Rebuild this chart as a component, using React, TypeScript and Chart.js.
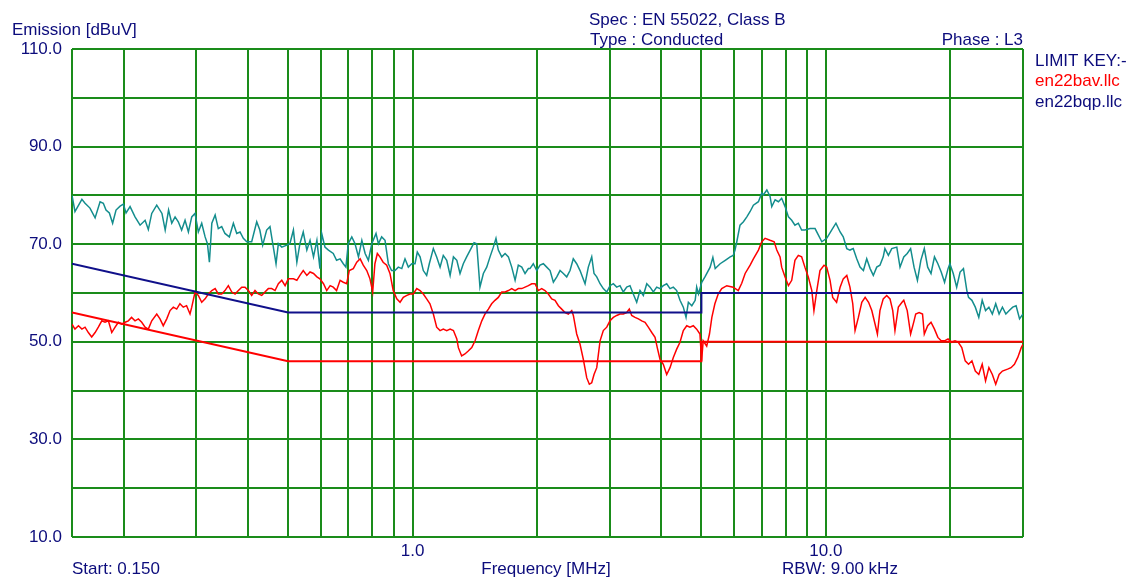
import React, { useEffect, useRef } from 'react';
import { Chart, registerables } from 'chart.js';

Chart.register(...registerables);

// Quasi-peak trace (teal): frequency (MHz) and level (dBuV)
const qpFreqMHz = [
  0.15, 0.1525, 0.1585, 0.1613, 0.1658, 0.1706, 0.1754, 0.1786, 0.1813, 0.1847,
  0.1881, 0.1917, 0.1961, 0.1997, 0.2027, 0.2073, 0.2131, 0.2192, 0.2254, 0.2295,
  0.2339, 0.2405, 0.2476, 0.2521, 0.2569, 0.2615, 0.2664, 0.2712, 0.2763, 0.2816,
  0.2869, 0.2923, 0.2977, 0.3032, 0.309, 0.3149, 0.319, 0.3225, 0.3269, 0.333,
  0.3389, 0.3454, 0.3517, 0.3604, 0.3686, 0.3756, 0.3825, 0.3896, 0.3971, 0.4082,
  0.4198, 0.4271, 0.434, 0.4437, 0.452, 0.4605, 0.4675, 0.4736, 0.4827, 0.4965,
  0.505, 0.515, 0.525, 0.534, 0.544, 0.555, 0.565, 0.576, 0.587, 0.597,
  0.603, 0.614, 0.626, 0.643, 0.655, 0.668, 0.68, 0.69, 0.699, 0.713,
  0.726, 0.74, 0.754, 0.768, 0.782, 0.797, 0.816, 0.827, 0.842, 0.858,
  0.874, 0.89, 0.907, 0.924, 0.942, 0.959, 0.977, 0.996, 1.014, 1.027,
  1.043, 1.062, 1.082, 1.098, 1.123, 1.144, 1.166, 1.187, 1.21, 1.233,
  1.256, 1.28, 1.303, 1.327, 1.352, 1.391, 1.409, 1.43, 1.456, 1.484,
  1.512, 1.54, 1.569, 1.592, 1.613, 1.644, 1.675, 1.706, 1.738, 1.771,
  1.803, 1.838, 1.872, 1.907, 1.924, 1.96, 1.998, 2.035, 2.073, 2.112,
  2.152, 2.192, 2.234, 2.275, 2.317, 2.361, 2.405, 2.449, 2.496, 2.543,
  2.615, 2.663, 2.714, 2.749, 2.791, 2.843, 2.895, 2.951, 3.005, 3.061,
  3.119, 3.177, 3.236, 3.298, 3.359, 3.421, 3.487, 3.552, 3.618, 3.688,
  3.756, 3.826, 3.898, 3.971, 4.044, 4.121, 4.198, 4.276, 4.357, 4.438,
  4.521, 4.59, 4.65, 4.74, 4.83, 4.87, 4.92, 5.01, 5.1, 5.25,
  5.33, 5.4, 5.55, 5.71, 5.87, 5.97, 6.03, 6.09, 6.2, 6.32,
  6.44, 6.56, 6.68, 6.87, 7.0, 7.06, 7.2, 7.33, 7.4, 7.54,
  7.68, 7.82, 7.97, 8.12, 8.27, 8.42, 8.58, 8.74, 8.9, 9.16,
  9.42, 9.59, 9.78, 10.05, 10.33, 10.58, 10.83, 11.02, 11.24, 11.44,
  11.65, 11.88, 12.1, 12.33, 12.56, 12.8, 13.03, 13.28, 13.52, 13.77,
  13.9, 14.17, 14.44, 14.85, 15.12, 15.44, 15.74, 16.04, 16.35, 16.66,
  16.98, 17.31, 17.64, 17.97, 18.32, 18.67, 19.02, 19.38, 19.76, 19.96,
  20.34, 20.73, 21.13, 21.53, 21.94, 22.15, 22.57, 23.0, 23.45, 23.9,
  24.35, 24.81, 25.29, 25.77, 26.26, 26.75, 27.27, 27.79, 28.33, 28.87,
  29.43, 30,
];
const qpTrace = [
  80, 76.7, 79.2, 78.4, 77.4, 75.4, 78.7, 78.4, 77, 76.4,
  74.3, 77, 77.8, 78.2, 76.4, 77.7, 75.6, 73.9, 74.9, 73,
  76.3, 78, 76.3, 72.9, 77, 74.3, 75.6, 74.6, 72.9, 74.9,
  72.5, 75.6, 76.3, 72.5, 74.3, 71.5, 70.1, 66.3, 74.3, 76,
  73.2, 73.6, 72.2, 71.5, 74.3, 72.2, 72.5, 71.2, 70.5, 70.5,
  74.6, 72.9, 69.8, 72.9, 73.6, 69.4, 66, 70.1, 69.4, 69.8,
  70.1, 72.9, 66.3, 70.1, 72.5, 68.8, 70.8, 67.4, 70.8, 65,
  72.2, 69.4, 68.8, 68.1, 66.7, 67, 66, 65.3, 70.1, 71.5,
  70.1, 67.4, 70.8, 68.1, 66.7, 70.1, 72.2, 70.1, 71.5, 70.8,
  66, 64.6, 64.6, 65.3, 65, 67, 65.3, 66, 66, 68.4,
  67.4, 64.6, 63.6, 66, 69.1, 67.4, 65.3, 67.7, 66.7, 63.6,
  67.4, 66.7, 64, 66, 67.4, 69.4, 70.3, 70.1, 61.2, 64,
  65.3, 67.4, 69.4, 71.2, 68.8, 67.4, 68.1, 67.4, 65.3, 62.6,
  65.7, 65.3, 64, 65, 65, 66, 64.6, 65.7, 66, 65.3,
  64.6, 62.2, 63.3, 64.6, 64, 63.3, 64.6, 67, 66, 64.6,
  61.9, 65.3, 67.4, 64, 63.3, 61.9, 60.9, 60.2, 61.5, 61.9,
  61.2, 61.5, 60.2, 61.2, 61.5, 59.8, 58.1, 60.5, 59.5, 61.9,
  61.2, 60.2, 61.2, 60.9, 61.5, 61.9, 60.9, 61.2, 60.5, 58.5,
  57.1, 55, 58.1, 57.4, 58.5, 61.2, 59.8, 62.2, 63.3, 65.3,
  67.3, 65, 66, 66.7, 67.4, 67.7, 68.8, 70.5, 73.9, 74.6,
  75.6, 76.7, 78, 78.7, 80.5, 80.1, 81.1, 79.8, 77.7, 79.1,
  78.7, 79.4, 77.7, 75.6, 74.9, 73.9, 74.3, 72.9, 72.9, 73.2,
  73.2, 71.9, 70.5, 71.2, 72.9, 74.3, 72.5, 71.5, 69.1, 68.8,
  69.1, 67, 65.3, 64.6, 67, 65, 63.6, 65.3, 65.7, 67.4,
  69.1, 67.7, 69.1, 69.4, 65.3, 67.4, 68.1, 69.1, 65.3, 62.6,
  66.7, 69.1, 65.3, 64, 67.4, 66, 64.3, 62.2, 65, 66,
  64, 61.2, 64.3, 65, 60.5, 59.1, 58.5, 57.1, 55, 58.5,
  56.4, 57.1, 55.7, 57.8, 55.7, 57.1, 55.7, 56.4, 57.1, 57.4,
  54.7, 55.7,
];

// Average trace (red): frequency (MHz) and level (dBuV)
const avFreqMHz = [
  0.15, 0.1525, 0.1555, 0.1585, 0.1613, 0.1643, 0.1674, 0.1706, 0.1737, 0.1771,
  0.1803, 0.1837, 0.1872, 0.1907, 0.1942, 0.1979, 0.2016, 0.2053, 0.209, 0.2131,
  0.2171, 0.2212, 0.2254, 0.2295, 0.2339, 0.2405, 0.2449, 0.2494, 0.2543, 0.259,
  0.2638, 0.2688, 0.2737, 0.2788, 0.284, 0.2895, 0.2923, 0.2977, 0.3032, 0.309,
  0.3149, 0.3206, 0.3269, 0.333, 0.3389, 0.3454, 0.3517, 0.3584, 0.3653, 0.3721,
  0.379, 0.3862, 0.3933, 0.4007, 0.4082, 0.4158, 0.4235, 0.4317, 0.4395, 0.4478,
  0.4564, 0.4649, 0.4736, 0.4827, 0.4917, 0.5006, 0.515, 0.525, 0.534, 0.544,
  0.555, 0.565, 0.576, 0.587, 0.597, 0.609, 0.62, 0.632, 0.643, 0.655,
  0.668, 0.68, 0.693, 0.703, 0.719, 0.733, 0.747, 0.76, 0.775, 0.789,
  0.801, 0.811, 0.822, 0.834, 0.849, 0.866, 0.882, 0.898, 0.916, 0.933,
  0.95, 0.969, 0.986, 1.004, 1.024, 1.043, 1.062, 1.082, 1.102, 1.123,
  1.144, 1.166, 1.187, 1.21, 1.233, 1.256, 1.28, 1.291, 1.315, 1.339,
  1.364, 1.391, 1.417, 1.443, 1.471, 1.498, 1.526, 1.554, 1.583, 1.613,
  1.644, 1.675, 1.706, 1.738, 1.771, 1.803, 1.838, 1.872, 1.907, 1.943,
  1.979, 2.016, 2.054, 2.092, 2.131, 2.172, 2.212, 2.254, 2.296, 2.339,
  2.383, 2.428, 2.45, 2.496, 2.543, 2.59, 2.64, 2.678, 2.714, 2.749,
  2.791, 2.843, 2.895, 2.951, 3.005, 3.061, 3.119, 3.177, 3.236, 3.298,
  3.346, 3.391, 3.454, 3.52, 3.586, 3.653, 3.72, 3.792, 3.862, 3.91,
  3.971, 4.044, 4.121, 4.198, 4.276, 4.357, 4.438, 4.521, 4.608, 4.69,
  4.78, 4.87, 4.96, 5.005, 5.05, 5.15, 5.23, 5.3, 5.39, 5.49,
  5.6, 5.76, 5.97, 6.14, 6.26, 6.38, 6.56, 6.68, 6.87, 7.0,
  7.13, 7.33, 7.5, 7.61, 7.75, 7.82, 7.97, 8.12, 8.27, 8.42,
  8.58, 8.74, 8.9, 9.07, 9.25, 9.36, 9.51, 9.68, 9.9, 10.05,
  10.24, 10.39, 10.62, 10.83, 11.02, 11.24, 11.44, 11.62, 11.77, 11.99,
  12.22, 12.45, 12.69, 12.92, 13.16, 13.33, 13.52, 13.77, 14.04, 14.3,
  14.52, 14.7, 14.98, 15.29, 15.44, 15.74, 16.04, 16.35, 16.5, 16.82,
  17.14, 17.31, 17.64, 17.97, 18.32, 18.67, 19.02, 19.38, 19.76, 20.15,
  20.54, 20.92, 21.33, 21.74, 22.15, 22.57, 23.0, 23.45, 23.9, 24.35,
  24.81, 25.29, 25.77, 26.26, 26.75, 27.53, 28.06, 28.6, 29.14, 29.71,
  30,
];
const avTrace = [
  53.6, 52.6, 53.3, 52.6, 53, 51.9, 51, 51.9, 53, 54.3,
  54, 54.3, 51.9, 53, 54, 53.6, 54, 54.3, 55, 54.3,
  54.7, 54, 53, 52.6, 54.3, 55.7, 54.7, 53.3, 54.7, 56.4,
  57.1, 56.7, 57.8, 57.1, 57.4, 55.7, 57.1, 60.2, 59.5, 58.1,
  58.8, 59.8, 60.5, 60.9, 59.8, 59.8, 60.5, 61.5, 60.2, 59.8,
  60.5, 61.2, 61.2, 60.5, 59.5, 60.5, 59.8, 59.5, 60.2, 60.9,
  60.9, 60.5, 61.9, 62.6, 61.5, 62.9, 62.9, 62.6, 63.6, 64.6,
  63.6, 64.3, 64, 63.3, 62.9, 61.9, 60.5, 61.5, 61.2, 60.5,
  62.6, 62.2, 61.9, 64.6, 65, 66.3, 67, 65.7, 64.6, 62.9,
  60.2, 66, 68.1, 67.4, 66.3, 65.7, 64, 60.5, 58.8, 58.1,
  59.1, 59.5, 59.8, 59.8, 60.9, 60.5, 59.8, 58.8, 57.8, 55.7,
  53, 52.3, 52.6, 52.3, 52.6, 52.3, 50.6, 48.8, 47.1, 47.5,
  48.1, 48.8, 50.2, 52.3, 54.3, 55.7, 56.7, 57.8, 58.5, 59.1,
  60.2, 60.2, 60.5, 60.9, 60.5, 60.9, 60.9, 61.2, 61.5, 61.9,
  61.9, 60.5, 60.9, 60.5, 59.8, 58.8, 58.5, 57.4, 56.7, 56,
  55.7, 56.4, 55.4, 51.6, 49.5, 46.4, 42.6, 41.3, 41.6, 43.3,
  44.7, 50.2, 52.3, 53, 54.3, 55, 55.4, 55.7, 55.7, 56,
  56.7, 55.4, 55, 54.7, 54.3, 54, 53, 51.9, 50.9, 48.8,
  46.4, 45.4, 43.3, 44.7, 46.8, 48.5, 49.9, 52.3, 53.3, 53,
  53.3, 52.6, 51.6, 46.1, 50.2, 49.1, 51.6, 55, 57.8, 59.8,
  60.9, 61.5, 61.2, 60.5, 62, 64, 65.7, 67, 68.8, 70.5,
  71.2, 70.8, 70.5, 68.8, 67.4, 65.3, 63.3, 61.5, 62.6, 66.7,
  67.7, 67.4, 65.3, 63.3, 60.5, 56.4, 60.5, 64.6, 65.7, 65.3,
  62.6, 59.1, 58.1, 61.2, 62.9, 63.6, 61.2, 57.8, 52.3, 55,
  58.1, 59.1, 58.1, 56.4, 53.6, 51.6, 56.4, 58.8, 59.5, 58.8,
  56.4, 52.3, 57.1, 58.1, 58.5, 56.4, 51.6, 54.3, 55.7, 56,
  55.7, 51.6, 53.3, 54, 52.6, 50.9, 50.2, 50.2, 50.6, 49.9,
  50.2, 49.9, 48.8, 46.1, 45.4, 46.1, 44, 43.3, 45.4, 42,
  44.7, 43.3, 41.3, 43.3, 44, 44.4, 44.7, 45.4, 46.8, 48.8,
  49.5,
];

// Limit lines (EN 55022 Class B)
const limitFreqMHz = [0.15, 0.5, 5, 5, 30];
const qpLimit = [66, 56, 56, 60, 60];
const avLimit = [56, 46, 46, 50, 50];

// Axis ticks / labels
const xGridMHz = [0.15, 0.2, 0.3, 0.4, 0.5, 0.6, 0.7, 0.8, 0.9, 1, 2, 3, 4, 5, 6, 7, 8, 9, 10, 20, 30];
const xLabelValues = [1, 10];
const xLabelTexts = ['1.0', '10.0'];
const yLabelValues = [10, 30, 50, 70, 90, 110];

const NAVY = '#0c0c7c';
const RED = '#ff0000';
const TEAL = '#138d8d';
const LIMIT_BLUE = '#10108a';
const GRID = '#1a8c1a';
const FONT_FAMILY = '"Liberation Sans", Arial, sans-serif';
const FONT_SIZE = 17;

const textPlugin = {
  id: 'emcTexts',
  afterDraw(chart: any) {
    const ctx = chart.ctx as CanvasRenderingContext2D;
    ctx.save();
    ctx.font = `${FONT_SIZE}px ${FONT_FAMILY}`;
    ctx.textBaseline = 'alphabetic';
    ctx.fillStyle = NAVY;
    ctx.textAlign = 'left';
    ctx.fillText('Emission [dBuV]', 12, 35);
    ctx.fillText('Spec : EN 55022, Class B', 589, 25);
    ctx.fillText('Type : Conducted', 590, 45);
    ctx.textAlign = 'right';
    ctx.fillText('Phase : L3', 1023, 45);
    ctx.textAlign = 'left';
    ctx.fillText('LIMIT KEY:-', 1035, 66);
    ctx.fillStyle = RED;
    ctx.fillText('en22bav.llc', 1035, 86);
    ctx.fillStyle = NAVY;
    ctx.fillText('en22bqp.llc', 1035, 107);
    ctx.fillText('Start: 0.150', 72, 574);
    ctx.textAlign = 'center';
    ctx.fillText('Frequency [MHz]', 546, 574);
    ctx.textAlign = 'left';
    ctx.fillText('RBW: 9.00 kHz', 782, 574);
    ctx.restore();
  },
};

export default function App() {
  const ref = useRef<HTMLCanvasElement>(null);

  useEffect(() => {
    if (!ref.current) return;
    const toPts = (xs: number[], ys: number[]) => xs.map((x, i) => ({ x, y: ys[i] }));
    const chart = new Chart(ref.current, {
      type: 'line',
      data: {
        datasets: [
          { label: 'en22bqp.llc', data: toPts(limitFreqMHz, qpLimit), borderColor: LIMIT_BLUE, borderWidth: 2, pointRadius: 0, tension: 0 },
          { label: 'en22bav.llc', data: toPts(limitFreqMHz, avLimit), borderColor: RED, borderWidth: 2, pointRadius: 0, tension: 0 },
          { label: 'Average', data: toPts(avFreqMHz, avTrace), borderColor: RED, borderWidth: 1.5, pointRadius: 0, tension: 0 },
          { label: 'Quasi-peak', data: toPts(qpFreqMHz, qpTrace), borderColor: TEAL, borderWidth: 1.5, pointRadius: 0, tension: 0 },
        ],
      },
      options: {
        responsive: false,
        animation: false,
        devicePixelRatio: 1,
        layout: { padding: { top: 49, right: 105, bottom: 0, left: 0 } },
        plugins: { legend: { display: false }, tooltip: { enabled: false }, title: { display: false } },
        scales: {
          x: {
            type: 'logarithmic',
            position: 'bottom',
            min: 0.15,
            max: 30,
            afterBuildTicks: (scale: any) => {
              scale.ticks = xGridMHz.map((v) => ({ value: v }));
            },
            afterFit: (scale: any) => {
              scale.height = 40;
            },
            ticks: {
              autoSkip: false,
              maxRotation: 0,
              padding: 4,
              color: NAVY,
              font: { family: FONT_FAMILY, size: FONT_SIZE },
              callback: (v: any) => {
                const idx = xLabelValues.findIndex((lv) => Math.abs(lv - Number(v)) < 1e-9);
                return idx >= 0 ? xLabelTexts[idx] : '';
              },
            },
            grid: { color: GRID, lineWidth: 2, drawTicks: false },
            border: { display: false },
          },
          y: {
            type: 'linear',
            min: 10,
            max: 110,
            afterFit: (scale: any) => {
              scale.width = 72;
            },
            ticks: {
              stepSize: 10,
              padding: 10,
              color: NAVY,
              font: { family: FONT_FAMILY, size: FONT_SIZE },
              callback: (v: any) => (yLabelValues.includes(Number(v)) ? Number(v).toFixed(1) : ''),
            },
            grid: { color: GRID, lineWidth: 2, drawTicks: false },
            border: { display: false },
          },
        },
      },
      plugins: [textPlugin],
    } as any);
    return () => chart.destroy();
  }, []);

  return (
    <div style={{ position: 'absolute', left: 0, top: 0, width: 1128, height: 577, background: '#ffffff' }}>
      <canvas ref={ref} width={1128} height={577} style={{ display: 'block', width: 1128, height: 577 }} />
    </div>
  );
}
